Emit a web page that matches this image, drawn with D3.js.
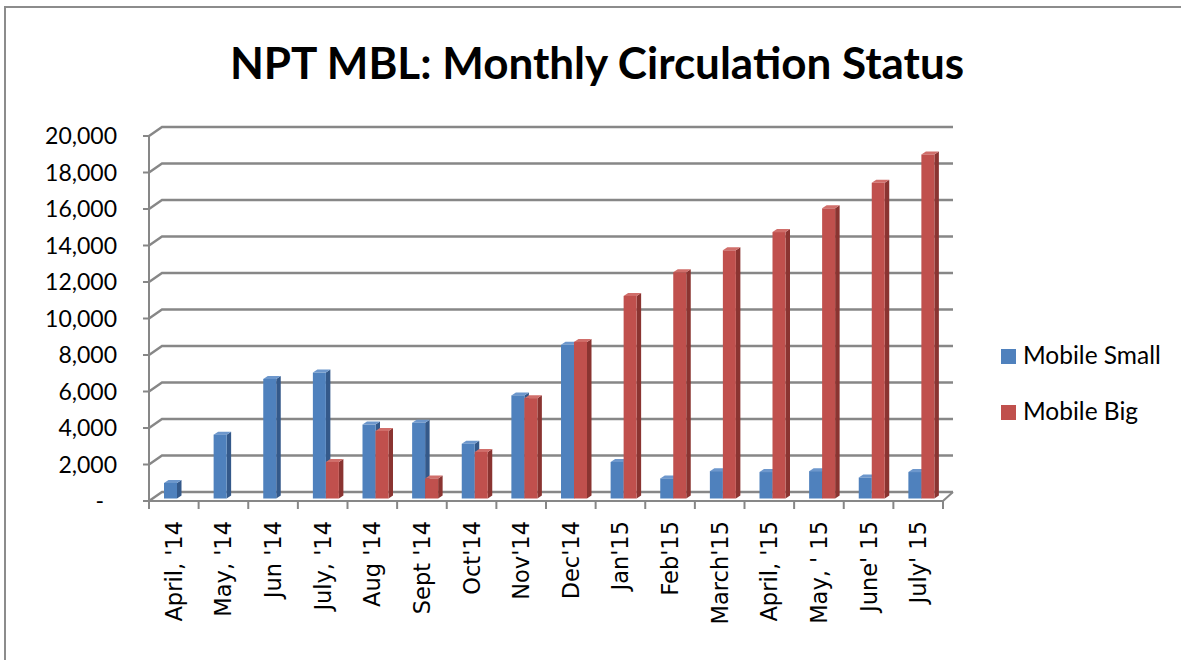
<!DOCTYPE html>
<html>
<head>
<meta charset="utf-8">
<script src="https://cdn.jsdelivr.net/npm/d3@7"></script>
<style>
  html, body { margin: 0; padding: 0; background: #fff; }
  svg { display: block; }
</style>
</head>
<body>
<svg id="chart" width="1181" height="660"></svg>
<script>
const title = "NPT MBL: Monthly Circulation Status";
const categories = ["April, '14", "May, '14", "Jun '14", "July, '14", "Aug '14", "Sept '14", "Oct'14", "Nov'14", "Dec'14", "Jan'15", "Feb'15", "March'15", "April, '15", "May, ' 15", "June' 15", "July' 15"];
const seriesNames = ["Mobile Small", "Mobile Big"];
const mobileSmall = [850, 3500, 6550, 6900, 4050, 4150, 3000, 5650, 8420, 2000, 1100, 1500, 1450, 1500, 1150, 1450];
const mobileBig = [null, null, null, 2000, 3700, 1100, 2550, 5500, 8580, 11100, 12400, 13600, 14600, 15900, 17300, 18850];
const yTickValues = [0, 2000, 4000, 6000, 8000, 10000, 12000, 14000, 16000, 18000, 20000];

const svg = d3.select("#chart");
svg.append("rect").attr("width", 1181).attr("height", 660).attr("fill", "#fff");

// frame
svg.append("rect").attr("x", 5).attr("y", 7).attr("width", 1200).attr("height", 700)
  .attr("fill", "none").attr("stroke", "#8c8c8c").attr("stroke-width", 2);

// title
svg.append("text").attr("x", 597).attr("y", 79).attr("text-anchor", "middle")
  .attr("font-family", "Lato").attr("font-weight", "bold").attr("font-size", 44)
  .attr("fill", "#000").text(title);

// geometry
const frontLeft = 149, frontRight = 943;
const depthDX = 13, depthDY = -9;     // back wall offset
const rightDX = 10;                    // right floor edge offset
const x = d3.scaleBand().domain(categories).range([frontLeft, frontRight]);
const xs = d3.scaleBand().domain(seriesNames).range([15, 41]);
const yF = d3.scaleLinear().domain([0, 20000]).range([501, 136]);
const yBar = d3.scaleLinear().domain([0, 20000]).range([498.5, 133.5]);
const gridColor = "#878787";

const g = svg.append("g");

// gridlines (front diagonal + back wall)
yTickValues.forEach(v => {
  const yf = yF(v), yb = yF(v) + depthDY;
  g.append("polyline")
    .attr("points", `${frontLeft},${yf} ${frontLeft + depthDX},${yb} ${frontRight + rightDX},${yb}`)
    .attr("fill", "none").attr("stroke", gridColor).attr("stroke-width", 2.4);
  g.append("line").attr("x1", frontLeft - 6).attr("x2", frontLeft).attr("y1", yf).attr("y2", yf)
    .attr("stroke", gridColor).attr("stroke-width", 2);
});

// y axis line
g.append("line").attr("x1", frontLeft).attr("x2", frontLeft).attr("y1", yF(20000)).attr("y2", yF(0))
  .attr("stroke", gridColor).attr("stroke-width", 2);

// floor front edge + right edge
g.append("polyline")
  .attr("points", `${frontLeft},${yF(0)} ${frontRight},${yF(0)} ${frontRight + rightDX},${yF(0) + depthDY}`)
  .attr("fill", "none").attr("stroke", gridColor).attr("stroke-width", 2);

// category ticks
const step = x.step();
d3.range(categories.length + 1).forEach(i => {
  const tx = frontLeft + i * step;
  g.append("line").attr("x1", tx).attr("x2", tx).attr("y1", yF(0)).attr("y2", yF(0) + 8)
    .attr("stroke", gridColor).attr("stroke-width", 2);
});

// y tick labels
const fmt = d3.format(",");
yTickValues.forEach(v => {
  svg.append("text")
    .attr("x", v === 0 ? 104 : 117).attr("y", yF(v)).attr("dy", "0.35em")
    .attr("text-anchor", "end").attr("font-family", "Lato").attr("font-size", 23)
    .attr("fill", "#000").text(v === 0 ? "-" : fmt(v));
});

// category labels
categories.forEach(c => {
  const cx = x(c) + x.bandwidth() / 2 + 8;
  svg.append("text")
    .attr("transform", `translate(${cx},521) rotate(-90)`)
    .attr("text-anchor", "end").attr("font-family", "DejaVu Sans").attr("font-size", 22.5)
    .attr("fill", "#000").text(c);
});

// bars
const colors = {
  "Mobile Small": { front: "#4F81BD", side: "#34598A", top: "#6D97CC" },
  "Mobile Big": { front: "#C0504D", side: "#8A3431", top: "#D06E6A" }
};
const bdx = 4.5, bdy = -3;
const barsG = svg.append("g");
categories.forEach((c, i) => {
  [["Mobile Small", mobileSmall[i]], ["Mobile Big", mobileBig[i]]].forEach(([s, v]) => {
    if (v == null) return;
    const x0 = x(c) + xs(s), x1 = x0 + xs.bandwidth();
    const yb = yBar(0), yt = yBar(v);
    const col = colors[s];
    barsG.append("polygon")
      .attr("points", `${x1},${yt} ${x1 + bdx},${yt + bdy} ${x1 + bdx},${yb + bdy} ${x1},${yb}`)
      .attr("fill", col.side);
    barsG.append("polygon")
      .attr("points", `${x0},${yt} ${x0 + bdx},${yt + bdy} ${x1 + bdx},${yt + bdy} ${x1},${yt}`)
      .attr("fill", col.top);
    barsG.append("rect").attr("x", x0).attr("y", yt).attr("width", x1 - x0).attr("height", yb - yt)
      .attr("fill", col.front);
  });
});

// legend
seriesNames.forEach((s, i) => {
  const ly = 349 + i * 56;
  svg.append("rect").attr("x", 1001).attr("y", ly).attr("width", 15).attr("height", 15)
    .attr("fill", colors[s].front);
  svg.append("text").attr("x", 1023).attr("y", ly + 15).attr("font-family", "Lato")
    .attr("font-size", 24.5).attr("fill", "#000").text(s);
});
</script>
</body>
</html>
